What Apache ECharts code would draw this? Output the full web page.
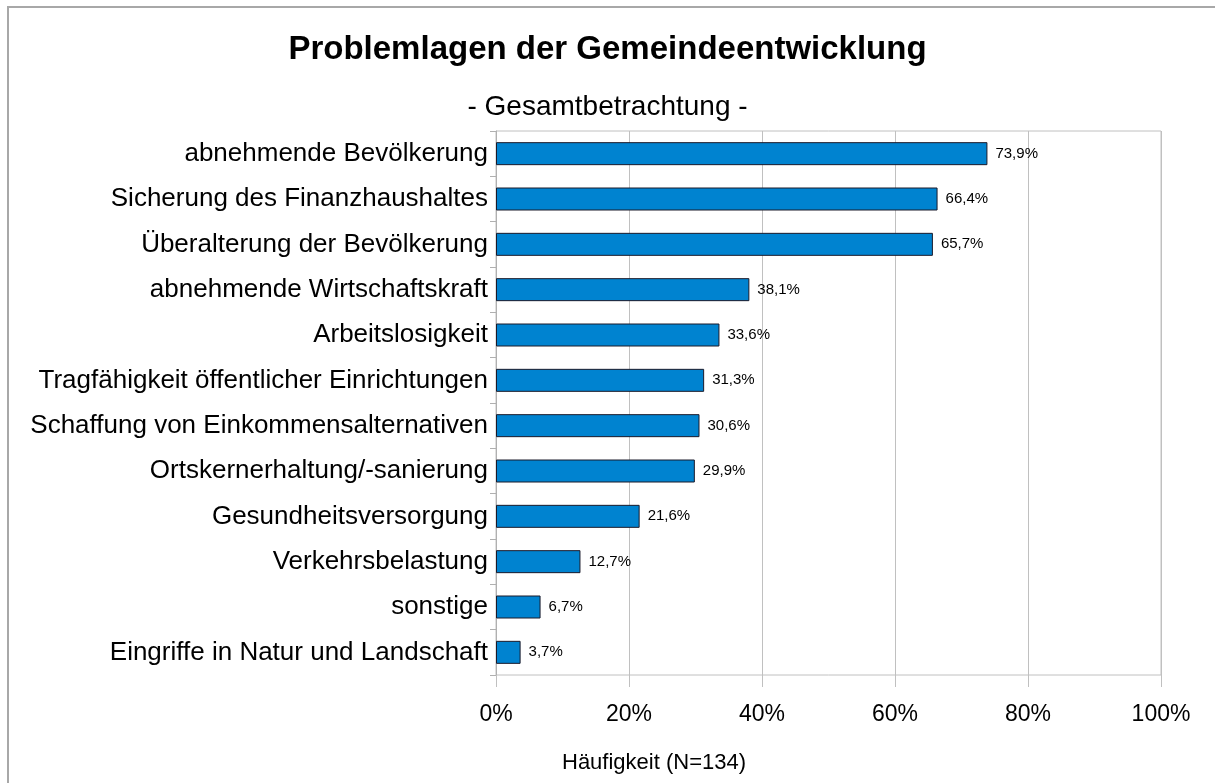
<!DOCTYPE html>
<html>
<head>
<meta charset="utf-8">
<script src="https://cdn.jsdelivr.net/npm/echarts@6/dist/echarts.min.js"></script>
<style>
  html, body { margin: 0; padding: 0; background: #fff; }
  #chart { width: 1215px; height: 783px; }
</style>
</head>
<body>
<div id="chart"></div>
<script>
// Problemlagen, von oben nach unten
var categories = [
    'abnehmende Bevölkerung',
    'Sicherung des Finanzhaushaltes',
    'Überalterung der Bevölkerung',
    'abnehmende Wirtschaftskraft',
    'Arbeitslosigkeit',
    'Tragfähigkeit öffentlicher Einrichtungen',
    'Schaffung von Einkommensalternativen',
    'Ortskernerhaltung/-sanierung',
    'Gesundheitsversorgung',
    'Verkehrsbelastung',
    'sonstige',
    'Eingriffe in Natur und Landschaft'
];
var values = [73.9, 66.4, 65.7, 38.1, 33.6, 31.3, 30.6, 29.9, 21.6, 12.7, 6.7, 3.7];

var chartTitle = 'Problemlagen der Gemeindeentwicklung';
var chartSubtitle = '- Gesamtbetrachtung -';
var axisTitle = 'Häufigkeit (N=134)';

var font = 'Liberation Sans, Arial, sans-serif';

var myChart = echarts.init(document.getElementById('chart'));

var option = {
    backgroundColor: '#ffffff',
    animation: false,
    textStyle: { fontFamily: font },
    title: [{
        text: chartTitle,
        left: 'center',
        top: 28,
        textStyle: { fontSize: 33, fontWeight: 'bold', color: '#000', fontFamily: font }
    }, {
        text: chartSubtitle,
        left: 'center',
        top: 88,
        textStyle: { fontSize: 28, fontWeight: 'normal', color: '#000', fontFamily: font }
    }, {
        text: axisTitle,
        left: 557,
        top: 747,
        textStyle: { fontSize: 22, fontWeight: 'normal', color: '#000', fontFamily: font }
    }],
    graphic: [{
        type: 'rect',
        shape: { x: 8, y: 7, width: 1220, height: 790 },
        style: { fill: 'none', stroke: '#a8a8a8', lineWidth: 2 },
        silent: true
    }],
    grid: {
        left: 496,
        right: 54,
        top: 131,
        bottom: 108,
        show: true,
        borderColor: '#c0c0c0',
        borderWidth: 1
    },
    xAxis: {
        type: 'value',
        min: 0,
        max: 100,
        interval: 20,
        axisLine: { show: false },
        axisTick: { show: true, length: 12, lineStyle: { color: '#c0c0c0' } },
        splitLine: { show: true, lineStyle: { color: '#c0c0c0', width: 1 } },
        axisLabel: {
            margin: 28,
            fontSize: 23,
            color: '#000',
            formatter: '{value}%'
        }
    },
    yAxis: {
        type: 'category',
        inverse: true,
        data: categories,
        axisLine: { show: true, lineStyle: { color: '#b0b0b0' } },
        axisTick: { show: true, length: 6, alignWithLabel: false, lineStyle: { color: '#b0b0b0' } },
        axisLabel: { margin: 8, fontSize: 26, color: '#000' },
        splitLine: { show: false }
    },
    series: [{
        type: 'bar',
        data: values,
        barWidth: 23,
        itemStyle: {
            color: '#0083d0',
            borderColor: '#1a1a2a',
            borderWidth: 1
        },
        label: {
            show: true,
            position: 'right',
            distance: 8,
            fontSize: 15,
            color: '#000',
            formatter: function (p) {
                return p.value.toFixed(1).replace('.', ',') + '%';
            }
        }
    }]
};

myChart.setOption(option);
</script>
</body>
</html>
